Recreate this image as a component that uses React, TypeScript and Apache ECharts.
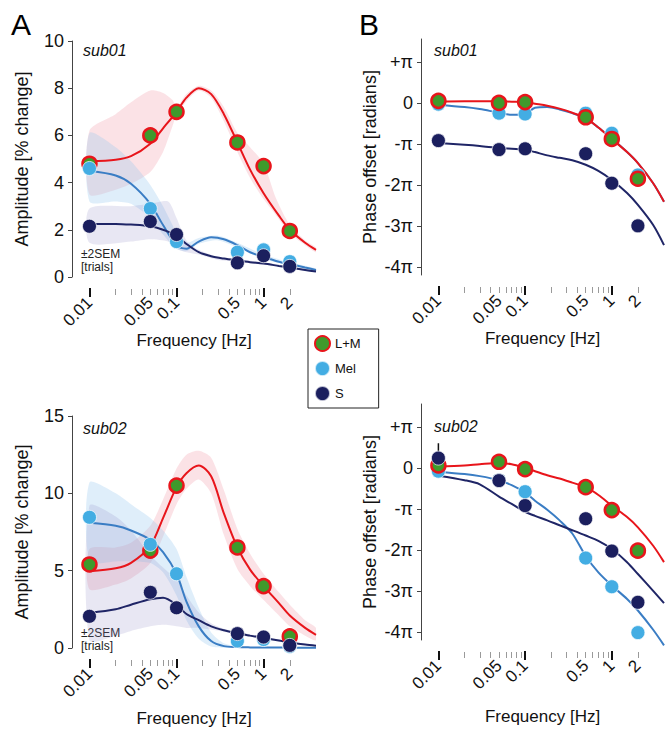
import React, { useEffect, useRef } from "react";
import * as echarts from "echarts";

// ---------- data ----------
const freqs = [0.01, 0.05, 0.1, 0.5, 1, 2];

// sub01 amplitude [% change]
const amp01LM = [4.8, 6.0, 7.0, 5.7, 4.7, 1.95];
const amp01Mel = [4.6, 2.9, 1.5, 1.05, 1.15, 0.65];
const amp01S = [2.15, 2.35, 1.8, 0.6, 0.9, 0.45];
// sub01 phase [units of pi]
const ph01LM = [0.05, 0.0, 0.02, -0.35, -0.88, -1.85];
const ph01Mel = [-0.03, -0.25, -0.27, -0.25, -0.74, -1.76];
const ph01S = [-0.92, -1.14, -1.12, -1.24, -1.96, -3.0];
// sub02 amplitude
const amp02LM = [5.4, 6.3, 10.5, 6.5, 4.0, 0.75];
const amp02Mel = [8.45, 6.7, 4.8, 0.45, 0.55, 0.1];
const amp02S = [2.05, 3.6, 2.6, 0.93, 0.71, 0.17];
// sub02 phase
const ph02LM = [0.06, 0.15, -0.03, -0.47, -1.03, -2.02];
const ph02Mel = [-0.08, -0.3, -0.58, -2.2, -2.9, -4.02];
const ph02S = [0.24, -0.31, -0.92, -1.24, -2.03, -3.28];
// error bar on S phase at 0.01 Hz (sub02)
const ph02SErrFreq = 0.01;
const ph02SErrRange = [-0.1, 0.6];

// fitted model curves
const fitFreqs = [0.01, 0.02, 0.03, 0.05, 0.07, 0.1, 0.13, 0.18, 0.25, 0.35, 0.5, 0.7, 1, 1.5, 2, 3, 4];
const fit01LM = [4.9, 4.97, 5.12, 5.65, 6.3, 7.0, 7.6, 8.0, 7.75, 6.9, 5.7, 4.55, 3.55, 2.6, 2.0, 1.45, 1.15];
const fit01Mel = [4.5, 4.3, 3.95, 3.1, 2.2, 1.35, 1.2, 1.5, 1.68, 1.6, 1.35, 1.05, 0.85, 0.65, 0.55, 0.4, 0.3];
const fit01S = [2.25, 2.25, 2.22, 2.15, 2.0, 1.75, 1.4, 1.05, 0.88, 0.78, 0.7, 0.63, 0.57, 0.47, 0.4, 0.3, 0.23];
const fitPh01LM = [0.03, 0.04, 0.04, 0.04, 0.03, 0.02, -0.02, -0.07, -0.14, -0.24, -0.37, -0.6, -0.88, -1.2, -1.47, -1.96, -2.41];
const fitPh01Mel = [-0.05, -0.1, -0.15, -0.24, -0.29, -0.27, -0.12, -0.1, -0.16, -0.25, -0.38, -0.6, -0.87, -1.2, -1.47, -1.96, -2.41];
const fitPh01S = [-0.98, -1.02, -1.05, -1.1, -1.12, -1.14, -1.2, -1.28, -1.34, -1.4, -1.51, -1.66, -1.88, -2.2, -2.49, -2.98, -3.47];
const fit02LM = [4.96, 5.15, 5.5, 6.6, 8.4, 10.4, 11.3, 11.8, 11.1, 8.7, 6.5, 5.07, 4.0, 2.9, 2.1, 1.3, 0.85];
const fit02Mel = [8.1, 7.9, 7.6, 7.0, 6.2, 4.8, 3.0, 1.4, 0.45, 0.12, 0.06, 0.04, 0.03, 0.03, 0.02, 0.02, 0.02];
const fit02S = [2.27, 2.5, 2.8, 3.15, 3.25, 2.8, 2.2, 1.8, 1.4, 1.15, 0.95, 0.8, 0.65, 0.48, 0.35, 0.22, 0.15];
const fitPh02LM = [0.03, 0.06, 0.09, 0.12, 0.09, 0.0, -0.08, -0.18, -0.26, -0.36, -0.47, -0.66, -0.92, -1.2, -1.45, -1.9, -2.3];
const fitPh02Mel = [-0.1, -0.15, -0.2, -0.3, -0.42, -0.6, -0.8, -1.02, -1.28, -1.6, -2.15, -2.55, -2.87, -3.2, -3.48, -3.95, -4.33];
const fitPh02S = [-0.19, -0.3, -0.4, -0.7, -0.88, -1.07, -1.17, -1.28, -1.4, -1.52, -1.65, -1.78, -1.98, -2.3, -2.59, -3.0, -3.3];

// ±2SEM bands
const band01LMFreqs = [0.01, 0.02, 0.03, 0.05, 0.07, 0.09, 0.1, 0.13, 0.18, 0.25, 0.35, 0.5, 0.7, 1, 1.4, 2, 3, 4];
const band01LMUp = [6.2, 6.9, 7.4, 7.9, 7.8, 7.5, 7.2, 7.75, 8.1, 7.9, 7.2, 6.1, 5.5, 4.8, 3.3, 2.2, 1.55, 1.25];
const band01LMLo = [3.5, 3.7, 3.95, 4.45, 5.3, 6.4, 6.85, 7.45, 7.9, 7.6, 6.6, 5.3, 4.2, 3.3, 2.6, 1.85, 1.35, 1.05];
const band01MelFreqs = [0.01, 0.02, 0.03, 0.05, 0.07, 0.1, 0.13, 0.18, 0.3, 0.5, 1, 2, 4];
const band01MelUp = [6.1, 5.5, 4.9, 3.9, 3.0, 1.9, 1.45, 1.65, 1.75, 1.45, 0.95, 0.62, 0.35];
const band01MelLo = [3.2, 3.2, 3.1, 2.5, 1.8, 1.2, 1.1, 1.4, 1.55, 1.25, 0.75, 0.5, 0.25];
const band01SFreqs = [0.01, 0.03, 0.05, 0.08, 0.1, 0.13, 0.18, 0.3, 0.5, 1, 2, 4];
const band01SUp = [2.9, 3.0, 3.1, 3.2, 2.5, 1.55, 1.15, 0.85, 0.75, 0.62, 0.44, 0.26];
const band01SLo = [1.45, 1.5, 1.6, 1.5, 1.2, 1.05, 0.95, 0.72, 0.65, 0.52, 0.36, 0.2];
const band02LMFreqs = [0.01, 0.02, 0.03, 0.05, 0.07, 0.1, 0.13, 0.18, 0.25, 0.35, 0.5, 0.7, 1, 1.5, 2, 3, 4];
const band02LMUp = [6.4, 6.5, 6.8, 7.9, 9.6, 11.6, 12.5, 12.75, 12.3, 10.2, 7.7, 6.1, 4.8, 3.6, 2.8, 1.8, 1.3];
const band02LMLo = [3.8, 4.1, 4.5, 5.5, 7.2, 9.3, 10.3, 10.9, 10.0, 7.3, 5.1, 4.0, 3.1, 2.1, 1.4, 0.8, 0.5];
const band02MelFreqs = [0.01, 0.02, 0.03, 0.05, 0.07, 0.1, 0.13, 0.18, 0.25, 0.35, 0.5, 1, 4];
const band02MelUp = [10.7, 10.0, 9.3, 8.4, 7.6, 6.4, 4.6, 2.6, 1.0, 0.3, 0.12, 0.06, 0.04];
const band02MelLo = [5.6, 5.6, 5.6, 5.5, 4.9, 3.4, 1.8, 0.6, 0.1, 0.02, 0.01, 0.01, 0.01];
const band02SFreqs = [0.01, 0.02, 0.03, 0.05, 0.07, 0.1, 0.13, 0.18, 0.25, 0.35, 0.5, 1, 2, 4];
const band02SUp = [9.2, 8.5, 7.6, 6.0, 5.2, 4.4, 3.4, 2.3, 1.6, 1.25, 1.05, 0.72, 0.4, 0.18];
const band02SLo = [0.5, 0.8, 1.1, 1.4, 1.5, 1.4, 1.3, 1.3, 1.2, 1.05, 0.85, 0.58, 0.3, 0.12];

// axis ticks
const xMajorTicks = [0.01, 0.1, 1];
const xMinorTicks = [0.02, 0.03, 0.04, 0.05, 0.06, 0.07, 0.08, 0.09, 0.2, 0.3, 0.4, 0.5, 0.6, 0.7, 0.8, 0.9, 2];
const xLabelTicks = [0.01, 0.05, 0.1, 0.5, 1, 2];
const phaseTicks = [-4, -3, -2, -1, 0, 1];

const XMIN = 0.0063;
const XMAX = 4;
const FONT = "'Liberation Sans', Arial, Helvetica, sans-serif";
const C_RED = "#e8151b";
const C_GREEN = "#3f9a2c";
const C_MEL = "#43ade3";
const C_MEL_LINE = "#3a7dc4";
const C_S = "#1b1f5e";
const C_S_LINE = "#1f2566";

const fmtFreq = (v: number) => String(+Number(v).toPrecision(3));
const fmtPhase = (v: number) => {
  const r = Math.round(v);
  if (r === 0) return "0";
  if (r === 1) return "+π";
  if (r === -1) return "-π";
  return `${r}π`;
};

function xAxesFor(gridIndex: number, nameGap: number) {
  return [
    {
      type: "log", gridIndex, min: XMIN, max: XMAX, logBase: 10, position: "bottom", offset: 11,
      axisLine: { show: false, onZero: false }, splitLine: { show: false },
      axisTick: { show: true, customValues: xMajorTicks, length: 9, lineStyle: { color: "#111", width: 2 } },
      axisLabel: { show: true, customValues: xLabelTicks, rotate: 45, margin: 12, fontSize: 17, color: "#111", fontFamily: FONT, formatter: fmtFreq },
      name: "Frequency [Hz]", nameLocation: "middle", nameGap,
      nameTextStyle: { fontSize: 17, color: "#111", fontFamily: FONT },
    },
    {
      type: "log", gridIndex, min: XMIN, max: XMAX, logBase: 10, position: "bottom", offset: 12,
      axisLine: { show: false, onZero: false }, splitLine: { show: false },
      axisTick: { show: true, customValues: xMinorTicks, length: 6, lineStyle: { color: "#9a9a9a", width: 1 } },
      axisLabel: { show: false },
    },
  ];
}

function yAmp(gridIndex: number, max: number, interval: number) {
  return {
    type: "value", gridIndex, min: 0, max, interval,
    axisLine: { show: true, onZero: false, lineStyle: { color: "#444", width: 1 } },
    axisTick: { show: true, length: 4, lineStyle: { color: "#444" } },
    splitLine: { show: false },
    axisLabel: { fontSize: 18, color: "#111", margin: 8, fontFamily: FONT },
    name: "Amplitude [% change]", nameLocation: "middle", nameGap: 41, nameRotate: 90,
    nameTextStyle: { fontSize: 18, color: "#111", fontFamily: FONT },
  };
}

function yPhase(gridIndex: number) {
  return {
    type: "value", gridIndex, min: -4.2, max: 1.56,
    axisLine: { show: true, onZero: false, lineStyle: { color: "#444", width: 1 } },
    axisTick: { show: true, length: 4, customValues: phaseTicks, lineStyle: { color: "#444" } },
    splitLine: { show: false },
    axisLabel: { fontSize: 18, color: "#111", margin: 8, fontFamily: FONT, customValues: phaseTicks, formatter: fmtPhase },
    name: "Phase offset [radians]", nameLocation: "middle", nameGap: 42, nameRotate: 90,
    nameTextStyle: { fontSize: 18, color: "#111", fontFamily: FONT },
  };
}

function band(g: number, xs: number[], up: number[], lo: number[], fill: string) {
  return {
    type: "custom", xAxisIndex: g * 2, yAxisIndex: g, z: 1, silent: true, clip: true,
    data: [[xs[0], up[0]]],
    renderItem: (_p: any, api: any) => {
      const top = xs.map((x, i) => api.coord([x, up[i]]));
      const bot = xs.map((x, i) => api.coord([x, lo[i]])).reverse();
      return { type: "polygon", shape: { points: top.concat(bot), smooth: 0.25 }, style: { fill } };
    },
  };
}

function fit(g: number, vals: number[], color: string) {
  return {
    type: "line", xAxisIndex: g * 2, yAxisIndex: g, z: 2, silent: true, clip: false,
    data: fitFreqs.map((f, i) => [f, vals[i]]),
    showSymbol: false, smooth: 0.3,
    lineStyle: { color, width: 2 },
  };
}

const dotStyles: Record<string, any> = {
  "L+M": { color: C_GREEN, borderColor: C_RED, borderWidth: 2.5, opacity: 1 },
  Mel: { color: C_MEL, borderColor: "rgba(255,255,255,0.7)", borderWidth: 1, opacity: 1 },
  S: { color: C_S, borderColor: "rgba(255,255,255,0.7)", borderWidth: 1, opacity: 1 },
};

function dots(g: number, name: string, vals: number[]) {
  return {
    type: "scatter", name, xAxisIndex: g * 2, yAxisIndex: g, z: 3, silent: true,
    data: freqs.map((f, i) => [f, vals[i]]),
    symbol: "circle", symbolSize: 14,
    itemStyle: dotStyles[name],
  };
}

const PINK = "rgba(243,165,178,0.32)";
const LBLUE = "rgba(150,200,240,0.30)";
const LAV = "rgba(140,135,195,0.20)";

export default function App() {
  const ref = useRef<HTMLDivElement>(null);
  useEffect(() => {
    if (!ref.current) return;
    const chart = echarts.init(ref.current, null, { renderer: "svg" });
    const option: any = {
      animation: false,
      backgroundColor: "#fff",
      textStyle: { fontFamily: FONT },
      grid: [
        { left: 72, top: 41, width: 244, height: 236 },
        { left: 421, top: 39, width: 243, height: 236 },
        { left: 72, top: 416, width: 244, height: 232 },
        { left: 421, top: 404, width: 243, height: 236 },
      ],
      xAxis: [...xAxesFor(0, 32), ...xAxesFor(1, 32), ...xAxesFor(2, 51), ...xAxesFor(3, 57)],
      yAxis: [yAmp(0, 10, 2), yPhase(1), yAmp(2, 15, 5), yPhase(3)],
      legend: {
        data: ["L+M", "Mel", "S"], orient: "vertical", left: 308, top: 329,
        itemWidth: 15, itemHeight: 15, itemGap: 8, padding: [6, 18, 6, 6],
        borderColor: "#222", borderWidth: 1, selectedMode: false,
        textStyle: { fontSize: 13, color: "#111", fontFamily: FONT },
      },
      series: [
        // sub01 amplitude
        band(0, band01LMFreqs, band01LMUp, band01LMLo, PINK),
        band(0, band01MelFreqs, band01MelUp, band01MelLo, LBLUE),
        band(0, band01SFreqs, band01SUp, band01SLo, LAV),
        fit(0, fit01LM, C_RED), fit(0, fit01Mel, C_MEL_LINE), fit(0, fit01S, C_S_LINE),
        dots(0, "L+M", amp01LM), dots(0, "Mel", amp01Mel), dots(0, "S", amp01S),
        // sub01 phase
        fit(1, fitPh01Mel, C_MEL_LINE), fit(1, fitPh01LM, C_RED), fit(1, fitPh01S, C_S_LINE),
        dots(1, "Mel", ph01Mel), dots(1, "L+M", ph01LM), dots(1, "S", ph01S),
        // sub02 amplitude
        band(2, band02LMFreqs, band02LMUp, band02LMLo, PINK),
        band(2, band02MelFreqs, band02MelUp, band02MelLo, LBLUE),
        band(2, band02SFreqs, band02SUp, band02SLo, LAV),
        fit(2, fit02LM, C_RED), fit(2, fit02Mel, C_MEL_LINE), fit(2, fit02S, C_S_LINE),
        dots(2, "L+M", amp02LM), dots(2, "Mel", amp02Mel), dots(2, "S", amp02S),
        // sub02 phase
        {
          type: "line", xAxisIndex: 6, yAxisIndex: 3, z: 2, silent: true, showSymbol: false,
          data: ph02SErrRange.map((v) => [ph02SErrFreq, v]),
          lineStyle: { color: "#111", width: 1.5 },
        },
        fit(3, fitPh02Mel, C_MEL_LINE), fit(3, fitPh02LM, C_RED), fit(3, fitPh02S, C_S_LINE),
        dots(3, "Mel", ph02Mel), dots(3, "L+M", ph02LM), dots(3, "S", ph02S),
      ],
      graphic: [
        { type: "text", left: 11, top: 9, style: { text: "A", fontSize: 30, fill: "#000", fontFamily: FONT } },
        { type: "text", left: 359, top: 9, style: { text: "B", fontSize: 30, fill: "#000", fontFamily: FONT } },
        { type: "text", left: 83, top: 42, style: { text: "sub01", fontSize: 16, fontStyle: "italic", fill: "#111", fontFamily: FONT } },
        { type: "text", left: 434, top: 42, style: { text: "sub01", fontSize: 16, fontStyle: "italic", fill: "#111", fontFamily: FONT } },
        { type: "text", left: 83, top: 420, style: { text: "sub02", fontSize: 16, fontStyle: "italic", fill: "#111", fontFamily: FONT } },
        { type: "text", left: 434, top: 418, style: { text: "sub02", fontSize: 16, fontStyle: "italic", fill: "#111", fontFamily: FONT } },
        { type: "text", left: 81, top: 247, style: { text: "±2SEM\n[trials]", fontSize: 12, lineHeight: 13, fill: "#222", fontFamily: FONT } },
        { type: "text", left: 81, top: 626, style: { text: "±2SEM\n[trials]", fontSize: 12, lineHeight: 13, fill: "#222", fontFamily: FONT } },
      ],
    };
    chart.setOption(option);
    return () => chart.dispose();
  }, []);
  return <div ref={ref} style={{ width: 667, height: 736, position: "absolute", left: 0, top: 0 }} />;
}
